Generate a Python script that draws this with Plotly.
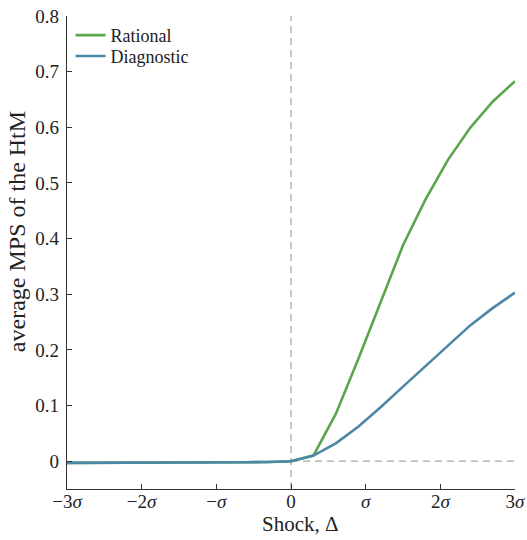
import plotly.graph_objects as go

shock = [-3.0, -2.7, -2.4, -2.1, -1.8, -1.5, -1.2, -0.9, -0.6, -0.3, 0.0,
         0.3, 0.6, 0.9, 1.2, 1.5, 1.8, 2.1, 2.4, 2.7, 3.0]
rational = [-0.003, -0.003, -0.003, -0.0028, -0.0027, -0.0025, -0.0023, -0.002, -0.0018, -0.0015, 0.0,
            0.010, 0.085, 0.183, 0.285, 0.388, 0.470, 0.541, 0.599, 0.646, 0.683]
diagnostic = [-0.003, -0.003, -0.003, -0.0028, -0.0027, -0.0025, -0.0023, -0.002, -0.0018, -0.0015, 0.0,
              0.010, 0.032, 0.062, 0.097, 0.134, 0.171, 0.207, 0.244, 0.275, 0.303]
x_tickvals = [-3, -2, -1, 0, 1, 2, 3]
x_ticktext = ["−3<i>σ</i>", "−2<i>σ</i>", "−<i>σ</i>", "0", "<i>σ</i>", "2<i>σ</i>", "3<i>σ</i>"]
y_tickvals = [0, 0.1, 0.2, 0.3, 0.4, 0.5, 0.6, 0.7, 0.8]
y_ticktext = ["0", "0.1", "0.2", "0.3", "0.4", "0.5", "0.6", "0.7", "0.8"]

FONT = "Liberation Serif"
GREEN = "#5aa64c"
BLUE = "#4d87a6"
AX = "#333333"
TXT = "#222222"

fig = go.Figure()
fig.add_trace(go.Scatter(x=shock, y=rational, mode="lines", name="Rational",
                         line=dict(color=GREEN, width=2.6), legend="legend"))
fig.add_trace(go.Scatter(x=shock, y=diagnostic, mode="lines", name="Diagnostic",
                         line=dict(color=BLUE, width=2.6), legend="legend2"))

# reference lines
fig.add_shape(type="line", xref="x", yref="y", x0=0, x1=0, y0=-0.05, y1=0.8,
              line=dict(color="#aaaaaa", width=1.3, dash="7px,5px"), layer="below")
fig.add_shape(type="line", xref="x", yref="y", x0=0, x1=3, y0=0, y1=0,
              line=dict(color="#aaaaaa", width=1.3, dash="7px,5px"), layer="below")

# axis titles
fig.add_annotation(text="average MPS of the HtM", xref="paper", yref="paper",
                   x=0, y=0.543, xshift=-50, textangle=-90, showarrow=False,
                   xanchor="center", yanchor="middle",
                   font=dict(family=FONT, size=24, color=TXT))
fig.add_annotation(text="Shock, Δ", xref="paper", yref="paper",
                   x=0.5, y=0, xshift=9, yshift=-35, showarrow=False,
                   xanchor="center", yanchor="middle",
                   font=dict(family=FONT, size=21, color=TXT))

leg_common = dict(xanchor="left", yanchor="top", bgcolor="rgba(0,0,0,0)",
                  font=dict(family=FONT, size=18, color=TXT), itemwidth=30)

fig.update_layout(
    width=527, height=540,
    margin=dict(l=67, r=12, t=16, b=51, autoexpand=False),
    paper_bgcolor="white", plot_bgcolor="white",
    font=dict(family=FONT, size=19, color=TXT),
    showlegend=True,
    legend=dict(x=0.008, y=0.998, **leg_common),
    legend2=dict(x=0.008, y=0.954, **leg_common),
    xaxis=dict(range=[-3, 3], tickmode="array", tickvals=x_tickvals, ticktext=x_ticktext,
               showgrid=False, zeroline=False, showline=True, linecolor=AX, linewidth=1.2,
               ticks="inside", ticklen=5, tickcolor=AX, tickwidth=1.2,
               ticklabelstandoff=-5, automargin=False),
    yaxis=dict(range=[-0.05, 0.8], tickmode="array", tickvals=y_tickvals, ticktext=y_ticktext,
               showgrid=False, zeroline=False, showline=True, linecolor=AX, linewidth=1.2,
               ticks="inside", ticklen=5, tickcolor=AX, tickwidth=1.2,
               ticklabelstandoff=3, automargin=False),
)

fig.write_html("out.html", config={"displayModeBar": False},
               post_script="document.body.style.margin='0px';")
